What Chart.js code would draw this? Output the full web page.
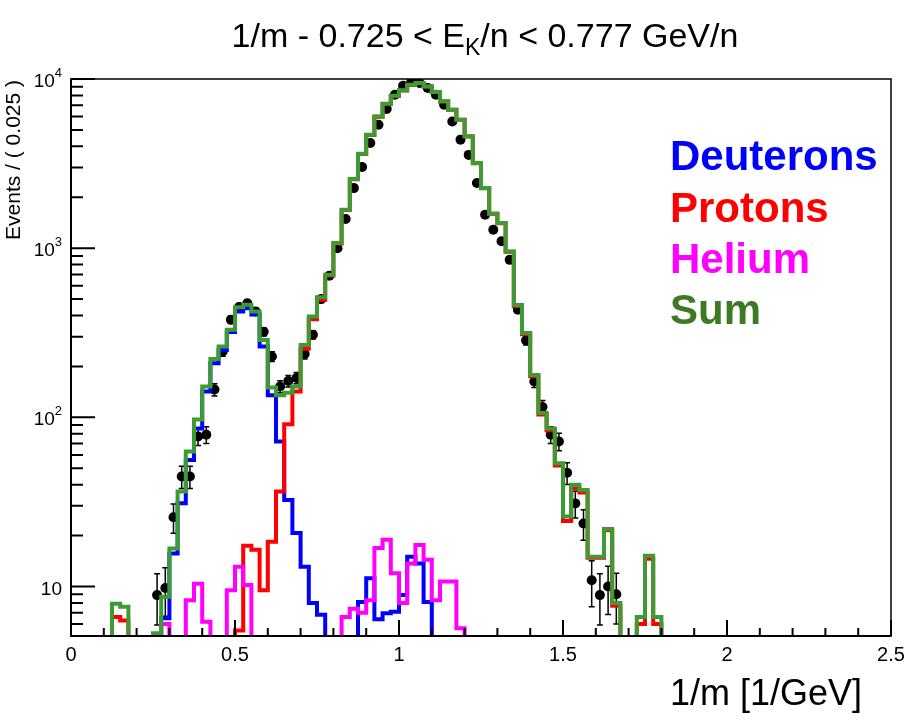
<!DOCTYPE html>
<html>
<head>
<meta charset="utf-8">
<style>
  html, body { margin: 0; padding: 0; background: #ffffff; }
  #wrap { width: 908px; height: 722px; }
</style>
<script src="https://cdn.jsdelivr.net/npm/chart.js@4.4.1/dist/chart.umd.min.js"></script>
</head>
<body>
<div id="wrap"><canvas id="massChart" width="908" height="722"></canvas></div>
<script>
// Binning of the 1/m histogram (Events / 0.025)
const BIN_WIDTH = 0.025;
const N_BINS = 100;

// Sum of the templates (green), one value per bin, 0 = empty
const sumCounts = [
  0, 0, 0, 0, 0, 7.9, 7.6, 0, 0, 0,
  5.3, 8.7, 16.8, 36.4, 62.8, 97, 152, 221, 262, 329,
  448, 463, 423, 287, 150, 135, 140, 152, 268, 395,
  512, 697, 1072, 1687, 2563, 3617, 4685, 6010, 7142, 7960,
  8570, 9250, 9470, 9040, 8380, 7380, 6580, 5740, 4580, 3184,
  2265, 1600, 1407, 955, 462, 315, 178, 106, 86, 53.6,
  25.9, 39.9, 37.2, 15, 15, 21.9, 8, 0, 0, 6.6,
  15.2, 6.6, 0, 0, 0, 0, 0, 0, 0, 0,
  0, 0, 0, 0, 0, 0, 0, 0, 0, 0,
  0, 0, 0, 0, 0, 0, 0, 0, 0, 0
];

// Protons template (red)
const protonCounts = [
  0, 0, 0, 0, 0, 6.6, 6.3, 0, 0, 0,
  0, 0, 0, 0, 0, 0, 0, 0, 0, 0,
  5.5, 17.4, 16.5, 9.5, 18.4, 36.4, 91, 142, 254, 380,
  495, 690, 1065, 1680, 2555, 3600, 4665, 5990, 7120, 7945,
  8555, 9220, 9440, 9015, 8370, 7370, 6570, 5735, 4575, 3180,
  2262, 1598, 1405, 953, 455, 310, 175, 104, 84, 52,
  24.4, 38, 36, 14.8, 14.8, 21.5, 7.7, 0, 0, 6.0,
  14.6, 6.0, 0, 0, 0, 0, 0, 0, 0, 0,
  0, 0, 0, 0, 0, 0, 0, 0, 0, 0,
  0, 0, 0, 0, 0, 0, 0, 0, 0, 0
];

// Deuterons template (blue)
const deuteronCounts = [
  0, 0, 0, 0, 0, 0, 0, 0, 0, 0,
  0, 6.5, 15.7, 31.1, 56, 86, 142, 209, 250, 320,
  423, 442, 405, 262, 135, 72, 32.5, 20.7, 13.1, 8.0,
  6.8, 0, 0, 0, 0, 8.1, 11.2, 6.4, 6.95, 7.1,
  8.9, 15.0, 13.7, 8.1, 0, 0, 0, 0, 0, 0,
  0, 0, 0, 0, 0, 0, 0, 0, 0, 0,
  0, 0, 0, 0, 0, 0, 0, 0, 0, 0,
  0, 0, 0, 0, 0, 0, 0, 0, 0, 0,
  0, 0, 0, 0, 0, 0, 0, 0, 0, 0,
  0, 0, 0, 0, 0, 0, 0, 0, 0, 0
];

// Helium template (magenta)
const heliumCounts = [
  0, 0, 0, 0, 0, 0, 0, 0, 0, 0,
  0, 6.0, 0, 0, 8.3, 10.4, 6.2, 0, 0, 9.5,
  13.1, 10.2, 0, 0, 0, 0, 0, 0, 0, 0,
  0, 0, 0, 6.6, 7.4, 7.0, 8.3, 16.9, 18.9, 12,
  8.0, 13.7, 17.6, 14.4, 8.3, 10.7, 10.7, 5.66, 0, 0,
  0, 0, 0, 0, 0, 0, 0, 0, 0, 0,
  0, 0, 0, 0, 0, 0, 0, 0, 0, 0,
  0, 0, 0, 0, 0, 0, 0, 0, 0, 0,
  0, 0, 0, 0, 0, 0, 0, 0, 0, 0,
  0, 0, 0, 0, 0, 0, 0, 0, 0, 0
];

// Measured events (black points), null = no point
const dataCounts = [
  null, null, null, null, null, null, null, null, null, null,
  8.9, 9.8, 25.7, 44.7, 44.7, 77, 79, 146, 245, 378,
  449, 473, 423, 321, 229, 152, 164, 171, 237, 308,
  500, 687, 1000, 1486, 2265, 3020, 4190, 5370, 6650, 8080,
  9120, 9680, 9470, 8850, 8080, 7050, 5610, 4380, 3560, 2427,
  1578, 1285, 1100, 853, 433, 285, 163, 115, 79, 72,
  47, 31, 23.6, 10.9, 8.9, 10, 9.0, null, null, null,
  null, null, null, null, null, null, null, null, null, null,
  null, null, null, null, null, null, null, null, null, null,
  null, null, null, null, null, null, null, null, null, null
];

// Axis ticks
const xTickValues = [0, 0.5, 1, 1.5, 2, 2.5];
const xTickLabels = ['0', '0.5', '1', '1.5', '2', '2.5'];
const yTickValues = [10, 100, 1000, 10000];
const yTickExponents = ['', '2', '3', '4'];

const legendNames = ['Deuterons', 'Protons', 'Helium', 'Sum'];
const legendColors = ['#0000ff', '#ff0000', '#ff00ff', '#3c7a24'];

const Y_MIN = 5.1;
const Y_MAX = 10000;
const FLOOR = 0.5; // empty bins are drawn down past the frame

const FONT = '"Liberation Sans", Arial, Helvetica, sans-serif';

// histogram as step line: a point at each bin's left edge plus the closing edge
function stepPoints(counts) {
  const pts = counts.map((c, i) => ({ x: i * BIN_WIDTH, y: c > 0 ? c : FLOOR }));
  pts.push({ x: N_BINS * BIN_WIDTH, y: pts[pts.length - 1].y });
  return pts;
}

function histDataset(label, counts, color, order) {
  return {
    label: label,
    data: stepPoints(counts),
    borderColor: color,
    borderWidth: 4,
    stepped: 'before',
    pointRadius: 0,
    fill: false,
    tension: 0,
    borderJoinStyle: 'miter',
    borderCapStyle: 'butt',
    clip: 0,
    order: order
  };
}

const dataPoints = [];
dataCounts.forEach((n, i) => {
  if (n !== null) dataPoints.push({ x: (i + 0.5) * BIN_WIDTH, y: n });
});

// draws the ROOT style frame, ticks, labels, title and legend text
const rootStyle = {
  id: 'rootStyle',
  beforeDatasetsDraw(chart) {
    const { ctx, chartArea: a } = chart;
    const x = chart.scales.x, y = chart.scales.y;
    ctx.save();
    ctx.beginPath();
    ctx.rect(a.left, a.top, a.right - a.left, a.bottom - a.top);
    ctx.clip();
    ctx.strokeStyle = '#000';
    ctx.lineWidth = 1.5;
    dataCounts.forEach((n, i) => {
      if (n === null) return;
      const px = x.getPixelForValue((i + 0.5) * BIN_WIDTH);
      const e = Math.sqrt(n);
      const yHi = y.getPixelForValue(n + e);
      const yLo = y.getPixelForValue(Math.max(n - e, FLOOR));
      ctx.beginPath();
      ctx.moveTo(px, yHi); ctx.lineTo(px, yLo);
      ctx.moveTo(px - 3, yHi); ctx.lineTo(px + 3, yHi);
      ctx.moveTo(px - 3, yLo); ctx.lineTo(px + 3, yLo);
      ctx.stroke();
    });
    ctx.restore();
  },
  afterDraw(chart) {
    const { ctx, chartArea: a } = chart;
    const x = chart.scales.x, y = chart.scales.y;
    ctx.save();
    ctx.strokeStyle = '#000';
    ctx.fillStyle = '#000';

    // frame
    ctx.lineWidth = 1.5;
    ctx.strokeRect(a.left, a.top, a.right - a.left, a.bottom - a.top);
    ctx.lineWidth = 2;
    ctx.beginPath();
    ctx.moveTo(a.left, a.top); ctx.lineTo(a.left, a.bottom); ctx.lineTo(a.right, a.bottom);
    ctx.stroke();

    // y ticks (inward)
    ctx.beginPath();
    for (let k = 0; k <= 4; k++) {
      for (let m = 1; m <= 9; m++) {
        const v = m * Math.pow(10, k);
        if (v < Y_MIN || v > Y_MAX * 1.0001) continue;
        const py = y.getPixelForValue(v);
        ctx.moveTo(a.left, py);
        ctx.lineTo(a.left + (m === 1 ? 24 : 12), py);
      }
    }
    // x ticks (inward)
    for (let j = 0; j <= 25; j++) {
      const px = x.getPixelForValue(j / 10);
      ctx.moveTo(px, a.bottom);
      ctx.lineTo(px, a.bottom - (j % 5 === 0 ? 16 : 8));
    }
    ctx.stroke();

    // x tick labels
    ctx.font = '20px ' + FONT;
    ctx.textAlign = 'center';
    ctx.textBaseline = 'alphabetic';
    xTickValues.forEach((v, i) => {
      ctx.fillText(xTickLabels[i], x.getPixelForValue(v), 661);
    });

    // y tick labels 10^n
    yTickValues.forEach((v, i) => {
      const py = y.getPixelForValue(v);
      const exp = yTickExponents[i];
      const right = a.left - 9;
      ctx.textAlign = 'right';
      if (exp) {
        ctx.font = '13px ' + FONT;
        const ew = ctx.measureText(exp).width;
        ctx.fillText(exp, right, py - 2);
        ctx.font = '19px ' + FONT;
        ctx.fillText('10', right - ew, py + 8);
      } else {
        ctx.font = '19px ' + FONT;
        ctx.fillText('10', right, py + 8);
      }
    });

    // x axis title
    ctx.font = '36px ' + FONT;
    ctx.textAlign = 'right';
    ctx.fillText('1/m [1/GeV]', 862, 705);

    // y axis title
    ctx.save();
    ctx.translate(20, a.top + 1);
    ctx.rotate(-Math.PI / 2);
    ctx.font = '21px ' + FONT;
    ctx.textAlign = 'right';
    ctx.fillText('Events / ( 0.025 )', 0, 0);
    ctx.restore();

    // title with subscript K
    const t1 = '1/m - 0.725 < E', sub = 'K', t2 = '/n < 0.777 GeV/n';
    ctx.textAlign = 'left';
    ctx.font = '34px ' + FONT;
    const w1 = ctx.measureText(t1).width, w2 = ctx.measureText(t2).width;
    ctx.font = '23px ' + FONT;
    const ws = ctx.measureText(sub).width;
    let tx = 485 - (w1 + ws + w2) / 2;
    ctx.font = '34px ' + FONT;
    ctx.fillText(t1, tx, 47);
    tx += w1;
    ctx.font = '23px ' + FONT;
    ctx.fillText(sub, tx, 55);
    tx += ws;
    ctx.font = '34px ' + FONT;
    ctx.fillText(t2, tx, 47);

    // legend text
    ctx.font = 'bold 42px ' + FONT;
    const baselines = [170, 222, 273, 324];
    legendNames.forEach((name, i) => {
      ctx.fillStyle = legendColors[i];
      ctx.fillText(name, 670, baselines[i]);
    });
    ctx.restore();
  }
};

new Chart(document.getElementById('massChart'), {
  type: 'line',
  data: {
    datasets: [
      histDataset('Sum', sumCounts, '#3d9b34', 0),
      histDataset('Helium', heliumCounts, '#ff00ff', 1),
      histDataset('Protons', protonCounts, '#ff0000', 2),
      histDataset('Deuterons', deuteronCounts, '#0000ff', 3),
      {
        label: 'Data',
        data: dataPoints,
        showLine: false,
        pointRadius: 5,
        pointHoverRadius: 5,
        pointBackgroundColor: '#000',
        pointBorderWidth: 0,
        order: 4
      }
    ]
  },
  options: {
    responsive: false,
    animation: false,
    events: [],
    devicePixelRatio: 1,
    layout: { padding: { left: 71, right: 17, top: 79, bottom: 86 } },
    scales: {
      x: { type: 'linear', min: 0, max: N_BINS * BIN_WIDTH, display: false },
      y: { type: 'logarithmic', min: Y_MIN, max: Y_MAX, display: false }
    },
    plugins: {
      legend: { display: false },
      tooltip: { enabled: false },
      title: { display: false }
    }
  },
  plugins: [rootStyle]
});
</script>
</body>
</html>
